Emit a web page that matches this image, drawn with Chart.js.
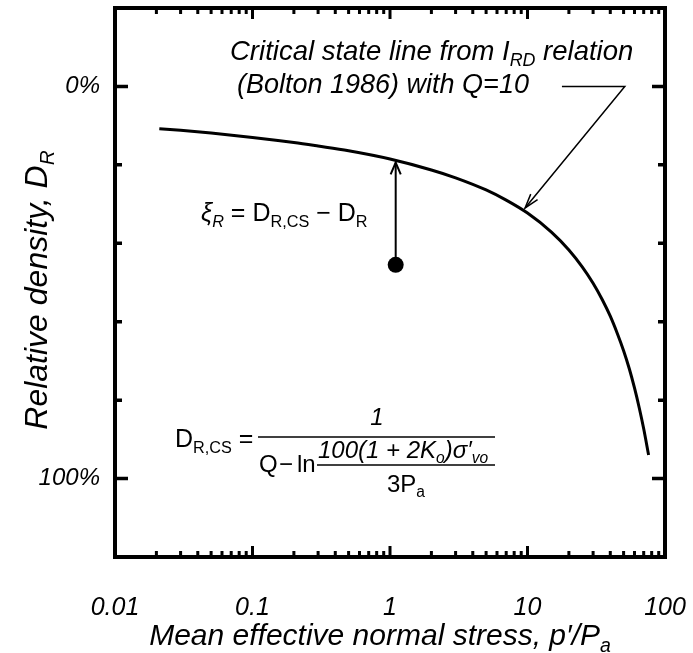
<!DOCTYPE html>
<html><head><meta charset="utf-8">
<script src="https://cdn.jsdelivr.net/npm/chart.js@4.4.1/dist/chart.umd.min.js"></script>
<style>html,body{margin:0;padding:0;background:#fff;}#wrap{width:693px;height:653px;}</style>
</head><body><div id="wrap"><canvas id="c" width="693" height="653"></canvas></div>
<script>
// ---- data ----
const pressureRatio = [0.021,0.03,0.05,0.1,0.2,0.3,0.5,1,2,3,5,7,10,15,20,25,30,35,40,45,50,55,60,65,70,76];
const relativeDensityCS = [10.8,11.2,11.9,13.0,14.3,15.2,16.4,18.5,21.3,23.3,26.4,29.0,32.3,37.2,41.7,46.0,50.2,54.4,58.6,63.0,67.4,72.0,76.9,82.0,87.3,94.0];
const statePointX = [1.1];
const statePointY = [45.5];
const stateArrowX = [1.1, 1.1];
const stateArrowY = [45.5, 19.4];
const leaderX = [17.8, 51, 9.6];
const leaderY = [0, 0, 31];
const xTickValues = [0.01, 0.1, 1, 10, 100];
const xTickLabels = ['0.01', '0.1', '1', '10', '100'];
const yTickValues = [-20, 0, 20, 40, 60, 80, 100, 120];
const yTickLabels = ['', '0%', '', '', '', '', '100%', ''];

const FONT = '"Liberation Sans", Arial, sans-serif';
const toXY = (xs, ys) => xs.map((x, i) => ({x: x, y: ys[i]}));

function fontStr(size, italic) { return (italic ? 'italic ' : '') + size + 'px ' + FONT; }
function richWidth(ctx, segs, size) {
  let w = 0;
  segs.forEach(s => { const sz = s.sub ? size * 0.65 : size; ctx.font = fontStr(sz, s.it !== false); w += ctx.measureText(s.t).width; });
  return w;
}
function drawRich(ctx, segs, x, y, size, align) {
  const w = richWidth(ctx, segs, size);
  let cx = align === 'center' ? x - w / 2 : (align === 'right' ? x - w : x);
  ctx.textAlign = 'left'; ctx.textBaseline = 'alphabetic'; ctx.fillStyle = '#000';
  segs.forEach(s => {
    const sz = s.sub ? size * 0.65 : size;
    ctx.font = fontStr(sz, s.it !== false);
    ctx.fillText(s.t, cx, s.sub ? y + size * 0.22 : y);
    cx += ctx.measureText(s.t).width;
  });
}
function openHead(ctx, x0, y0, x1, y1, len, ang) {
  const a = Math.atan2(y1 - y0, x1 - x0);
  ctx.beginPath();
  ctx.moveTo(x1 - len * Math.cos(a - ang), y1 - len * Math.sin(a - ang));
  ctx.lineTo(x1, y1);
  ctx.lineTo(x1 - len * Math.cos(a + ang), y1 - len * Math.sin(a + ang));
  ctx.stroke();
}
function zeroPad(s) { s.paddingLeft = 0; s.paddingRight = 0; s.paddingTop = 0; s.paddingBottom = 0; }

const decorPlugin = {
  id: 'decor',
  afterDraw(chart) {
    const ctx = chart.ctx, a = chart.chartArea, xs = chart.scales.x, ys = chart.scales.y;
    ctx.save();
    ctx.strokeStyle = '#000'; ctx.lineCap = 'butt';
    // inward ticks, x (bottom + top)
    ctx.lineWidth = 3;
    const xMinor = [];
    for (let i = 0; i < xTickValues.length - 1; i++) for (let k = 2; k <= 9; k++) xMinor.push(xTickValues[i] * k);
    const xt = xTickValues.map(v => [v, 11]).concat(xMinor.map(v => [v, 6]));
    xt.forEach(([v, len]) => {
      const px = xs.getPixelForValue(v);
      ctx.beginPath(); ctx.moveTo(px, a.bottom); ctx.lineTo(px, a.bottom - len);
      ctx.moveTo(px, a.top); ctx.lineTo(px, a.top + len); ctx.stroke();
    });
    // inward ticks, y (left + right)
    ctx.lineWidth = 3.5;
    yTickValues.forEach((v, i) => {
      const py = ys.getPixelForValue(v), len = yTickLabels[i] ? 13 : 7;
      ctx.beginPath(); ctx.moveTo(a.left, py); ctx.lineTo(a.left + len, py);
      ctx.moveTo(a.right, py); ctx.lineTo(a.right - len, py); ctx.stroke();
    });
    // frame
    ctx.lineWidth = 4;
    ctx.strokeRect(a.left, a.top, a.right - a.left, a.bottom - a.top);
    // arrow heads from dataset geometry
    ctx.lineWidth = 2;
    const m1 = chart.getDatasetMeta(1).data;
    openHead(ctx, m1[0].x, m1[0].y, m1[1].x, m1[1].y, 13, 0.4);
    ctx.lineWidth = 1.5;
    const m2 = chart.getDatasetMeta(2).data;
    openHead(ctx, m2[1].x, m2[1].y, m2[2].x, m2[2].y, 15, 0.3);

    // annotation text
    drawRich(ctx, [{t: 'Critical state line from I'}, {t: 'RD', sub: true}, {t: ' relation'}], 230, 60, 27.5, 'left');
    drawRich(ctx, [{t: '(Bolton 1986) with Q=10'}], 237, 93, 27, 'left');
    // xi formula
    drawRich(ctx, [{t: 'ξ'}, {t: 'R', sub: true}, {t: ' = D', it: false}, {t: 'R,CS', sub: true, it: false}, {t: ' − D', it: false}, {t: 'R', sub: true, it: false}], 201, 221, 25, 'left');
    // D_R,CS formula
    drawRich(ctx, [{t: 'D', it: false}, {t: 'R,CS', sub: true, it: false}, {t: ' =', it: false}], 175, 447, 25, 'left');
    ctx.lineWidth = 1.5;
    ctx.beginPath(); ctx.moveTo(258, 437); ctx.lineTo(495, 437); ctx.stroke();
    drawRich(ctx, [{t: '1'}], 377, 425, 24, 'center');
    drawRich(ctx, [{t: 'Q', it: false}], 259, 472, 24, 'left');
    drawRich(ctx, [{t: '−', it: false}], 279, 472, 24, 'left');
    drawRich(ctx, [{t: 'ln', it: false}], 297, 472, 24, 'left');
    drawRich(ctx, [{t: '100(1 + 2K'}, {t: 'o', sub: true}, {t: ')σ′'}, {t: 'vo', sub: true}], 318, 458, 24, 'left');
    ctx.beginPath(); ctx.moveTo(317, 465); ctx.lineTo(495, 465); ctx.stroke();
    drawRich(ctx, [{t: '3P', it: false}, {t: 'a', sub: true, it: false}], 406, 492, 24, 'center');

    // axis titles
    drawRich(ctx, [{t: 'Mean effective normal stress, p′/P'}, {t: 'a', sub: true}], 380, 645, 30, 'center');
    ctx.save();
    ctx.translate(47, 290);
    ctx.rotate(-Math.PI / 2);
    drawRich(ctx, [{t: 'Relative density, D'}, {t: 'R', sub: true}], 0, 0, 32, 'center');
    ctx.restore();
    ctx.restore();
  }
};

new Chart(document.getElementById('c'), {
  type: 'line',
  data: {
    datasets: [
      {label: 'Critical state line', data: toXY(pressureRatio, relativeDensityCS), borderColor: '#000', borderWidth: 3, pointRadius: 0, cubicInterpolationMode: 'monotone', fill: false},
      {label: 'State parameter', data: toXY(stateArrowX, stateArrowY), borderColor: '#000', borderWidth: 2, pointRadius: 0, fill: false},
      {label: 'Leader', data: toXY(leaderX, leaderY), borderColor: '#000', borderWidth: 1.5, pointRadius: 0, tension: 0, fill: false},
      {label: 'State point', data: toXY(statePointX, statePointY), showLine: false, pointRadius: 8, pointBackgroundColor: '#000', pointBorderColor: '#000', pointBorderWidth: 0}
    ]
  },
  options: {
    responsive: false, animation: false, devicePixelRatio: 1,
    layout: {padding: {top: 7, right: 28, left: 0, bottom: 0}},
    plugins: {legend: {display: false}, tooltip: {enabled: false}},
    scales: {
      x: {
        type: 'logarithmic', min: 0.01, max: 100,
        grid: {display: false, drawTicks: false}, border: {display: false},
        afterFit(s) { s.height = 96; zeroPad(s); },
        afterBuildTicks(s) { s.ticks = xTickValues.map(v => ({value: v, major: true})); },
        ticks: {autoSkip: false, maxRotation: 0, minRotation: 0, padding: 36, color: '#000',
          font: {family: FONT, size: 25, style: 'italic'},
          callback: (v, i) => xTickLabels[i]}
      },
      y: {
        type: 'linear', reverse: true, min: -20, max: 120,
        grid: {display: false, drawTicks: false}, border: {display: false},
        afterFit(s) { s.width = 115; zeroPad(s); },
        afterBuildTicks(s) { s.ticks = yTickValues.map(v => ({value: v})); },
        ticks: {autoSkip: false, padding: 15, color: '#000',
          font: {family: FONT, size: 24, style: 'italic'},
          callback: (v, i) => yTickLabels[i]}
      }
    }
  },
  plugins: [decorPlugin]
});
</script></body></html>
